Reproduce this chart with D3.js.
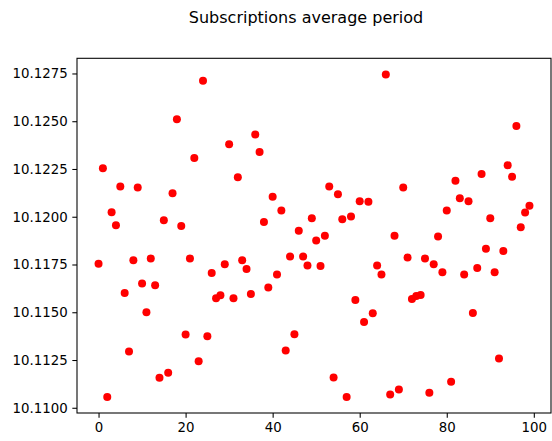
<!DOCTYPE html>
<html>
<head>
<meta charset="utf-8">
<script src="https://cdn.jsdelivr.net/npm/d3@7"></script>
<style>
  html, body { margin: 0; padding: 0; background: #fff; }
  svg { display: block; }
  text { font-family: "DejaVu Sans", sans-serif; fill: #000; }
</style>
</head>
<body>
<svg id="chart" width="552" height="441"></svg>
<script>
const title = "Subscriptions average period";
const xValues = d3.range(0, 100);
const yValues = [
  10.11754, 10.12254, 10.11057, 10.12024, 10.11956, 10.12158, 10.11601, 10.11295, 10.11772, 10.12153,
  10.11650, 10.11500, 10.11782, 10.11641, 10.11157, 10.11982, 10.11183, 10.12123, 10.12510, 10.11951,
  10.11383, 10.11782, 10.12308, 10.11244, 10.12712, 10.11375, 10.11705, 10.11573, 10.11589, 10.11751,
  10.12379, 10.11573, 10.12207, 10.11772, 10.11726, 10.11595, 10.12430, 10.12339, 10.11972, 10.11630,
  10.12104, 10.11697, 10.12033, 10.11300, 10.11792, 10.11385, 10.11927, 10.11792, 10.11745, 10.11992,
  10.11876, 10.11742, 10.11901, 10.12158, 10.11159, 10.12118, 10.11987, 10.11057, 10.12001, 10.11564,
  10.12081, 10.11449, 10.12078, 10.11495, 10.11745, 10.11697, 10.12745, 10.11070, 10.11901, 10.11096,
  10.12153, 10.11786, 10.11569, 10.11585, 10.11590, 10.11782, 10.11078, 10.11751, 10.11897, 10.11710,
  10.12033, 10.11136, 10.12188, 10.12097, 10.11698, 10.12081, 10.11496, 10.11731, 10.12224, 10.11833,
  10.11992, 10.11710, 10.11258, 10.11820, 10.12269, 10.12209, 10.12475, 10.11945, 10.12022, 10.12057
];
const xTicks = [0, 20, 40, 60, 80, 100];
const yTicks = [10.1100, 10.1125, 10.1150, 10.1175, 10.1200, 10.1225, 10.1250, 10.1275];

const svg = d3.select("#chart");
const plotLeft = 77, plotRight = 551, plotTop = 58.3, plotBottom = 413;

function padded(ext) {
  const d = ext[1] - ext[0];
  return [ext[0] - d * 0.05, ext[1] + d * 0.05];
}

const x = d3.scaleLinear().domain(padded(d3.extent(xValues))).range([plotLeft, plotRight]);
const y = d3.scaleLinear().domain(padded(d3.extent(yValues))).range([plotBottom, plotTop]);

const fontSize = 13.33;

// points
svg.append("g")
  .selectAll("circle")
  .data(xValues)
  .join("circle")
  .attr("cx", (d, i) => x(d))
  .attr("cy", (d, i) => y(yValues[i]))
  .attr("r", 4)
  .attr("fill", "#ff0000");

// axes
const xAxis = d3.axisBottom(x).tickValues(xTicks).tickFormat(d3.format("d"))
  .tickSizeInner(4.67).tickSizeOuter(0).tickPadding(4.67);
const yAxis = d3.axisLeft(y).tickValues(yTicks).tickFormat(d3.format(".4f"))
  .tickSizeInner(4.67).tickSizeOuter(0).tickPadding(4.67);

const gx = svg.append("g").attr("transform", `translate(0,${plotBottom})`).call(xAxis);
const gy = svg.append("g").attr("transform", `translate(${plotLeft},0)`).call(yAxis);
[gx, gy].forEach(g => {
  g.select(".domain").remove();
  g.selectAll(".tick line").attr("stroke", "#000").attr("stroke-width", 1.07);
  g.selectAll(".tick text").style("font-family", "DejaVu Sans").style("font-size", fontSize + "px").attr("fill", "#000");
});

// spines
svg.append("rect")
  .attr("x", plotLeft).attr("y", plotTop)
  .attr("width", plotRight - plotLeft).attr("height", plotBottom - plotTop)
  .attr("fill", "none").attr("stroke", "#000").attr("stroke-width", 1.07);

// title
svg.append("text")
  .attr("x", 306).attr("y", 23.3)
  .attr("text-anchor", "middle")
  .style("font-size", "16px")
  .text(title);
</script>
</body>
</html>
